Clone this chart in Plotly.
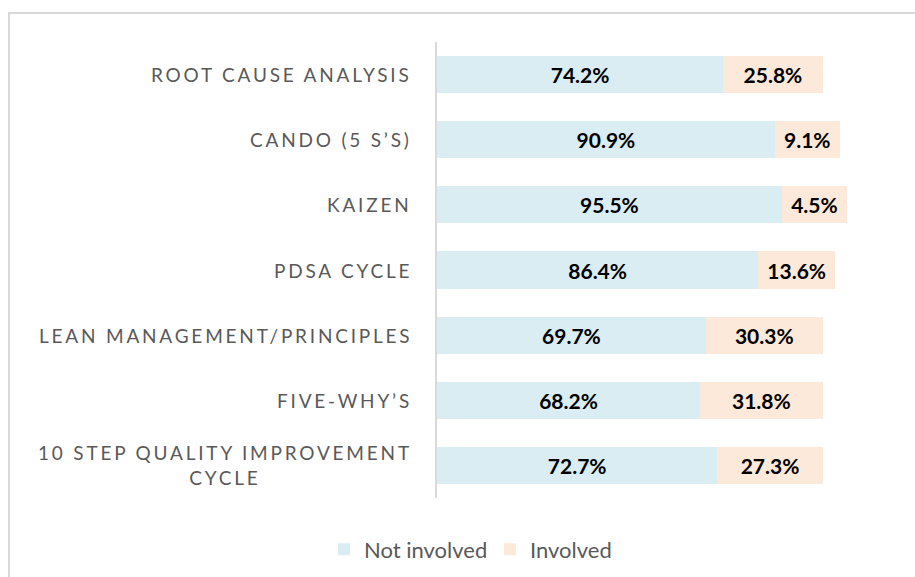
import plotly.graph_objects as go

categories = [
    "ROOT CAUSE ANALYSIS",
    "CANDO (5 S’S)",
    "KAIZEN",
    "PDSA CYCLE",
    "LEAN MANAGEMENT/PRINCIPLES",
    "FIVE-WHY’S",
    "10 STEP QUALITY IMPROVEMENT<br>CYCLE",
]
# bar lengths as drawn in the picture (percent axis units)
not_involved_len = [74.2, 87.6, 89.4, 83.3, 69.7, 68.2, 72.7]
involved_len = [25.8, 16.8, 16.9, 19.9, 30.3, 31.8, 27.3]
# printed labels
not_involved_lbl = ["74.2%", "90.9%", "95.5%", "86.4%", "69.7%", "68.2%", "72.7%"]
involved_lbl = ["25.8%", "9.1%", "4.5%", "13.6%", "30.3%", "31.8%", "27.3%"]

BLUE = "#DAEDF3"
PEACH = "#FDE9D9"
GRAY = "#595959"
FAM = "Lato, 'Open Sans', sans-serif"
LBL_FONT = dict(family=FAM, size=21, color="black", weight="bold")

fig = go.Figure()
fig.add_trace(go.Bar(
    y=categories, x=not_involved_len, orientation="h", name="Not involved",
    marker=dict(color=BLUE, line=dict(width=0)),
    text=not_involved_lbl, textposition="inside", insidetextanchor="middle",
    textfont=LBL_FONT, constraintext="none",
))
fig.add_trace(go.Bar(
    y=categories, x=involved_len, orientation="h", name="Involved",
    marker=dict(color=PEACH, line=dict(width=0)),
    text=involved_lbl, textposition="inside", insidetextanchor="middle",
    textfont=LBL_FONT, constraintext="none",
))

L, R, T, B = 437, 34, 42, 79
W, H = 915, 577
pw = W - L - R
ph = H - T - B

LS = 'letter-spacing:2.8px'
annotations = []
for c in categories:
    annotations.append(dict(
        xref="paper", yref="y", x=(414 - L) / pw, y=c,
        xanchor="right", yanchor="middle", align="center", showarrow=False,
        text=f'<span style="{LS}">' + c.replace("<br>", f'</span><br><span style="{LS}">') + "</span>",
        font=dict(family=FAM, size=19, color=GRAY),
    ))

fig.update_layout(
    width=W, height=H,
    margin=dict(l=L, r=R, t=T, b=B, autoexpand=False),
    barmode="stack", bargap=0.43,
    plot_bgcolor="white", paper_bgcolor="white",
    xaxis=dict(range=[0, pw / 3.857], visible=False, fixedrange=True),
    yaxis=dict(autorange="reversed", showticklabels=False, showline=True,
               linecolor="#D9D9D9", linewidth=2, ticks="", showgrid=False, zeroline=False),
    showlegend=True,
    legend=dict(orientation="h", xref="container", yref="container",
                x=324 / W, xanchor="left", y=(H - 549.5) / H, yanchor="middle",
                font=dict(family=FAM, size=22, color=GRAY),
                traceorder="normal", entrywidth=121),
    annotations=annotations,
    shapes=[dict(type="rect", xref="paper", yref="paper",
                 x0=(9 - L) / pw, x1=(W + 10 - L) / pw,
                 y0=(H - B - 13) / ph, y1=(H - B - (H + 10)) / ph,
                 line=dict(color="#D9D9D9", width=2), fillcolor="rgba(0,0,0,0)", layer="below")],
    font=dict(family=FAM),
)

fig.write_html("out.html", config={"displayModeBar": False},
               post_script="document.body.style.margin='0';")
